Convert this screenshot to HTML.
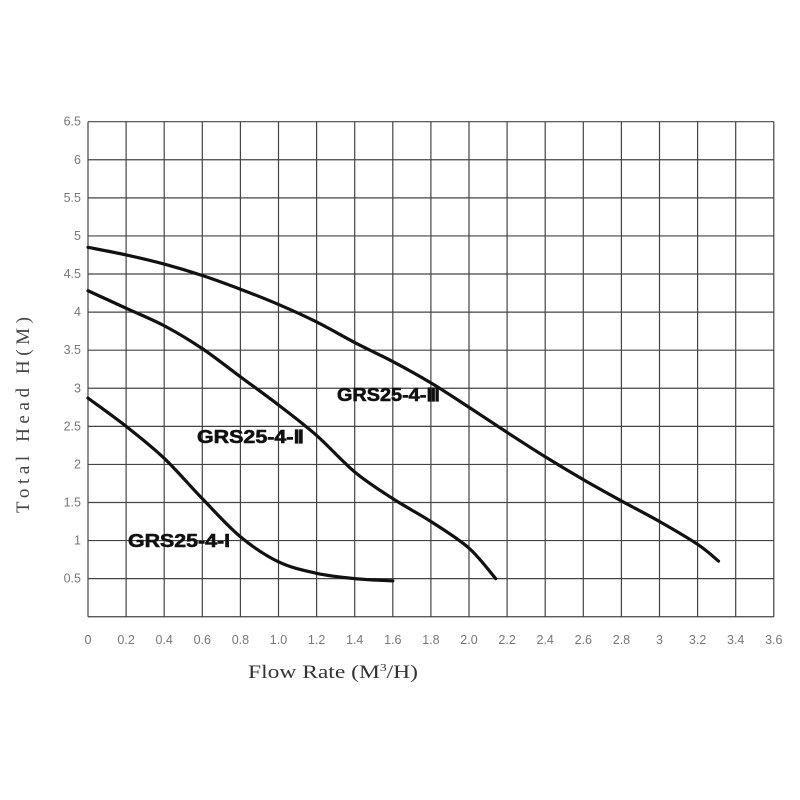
<!DOCTYPE html>
<html><head><meta charset="utf-8"><style>
html,body{margin:0;padding:0;background:#fff;width:800px;height:800px;overflow:hidden}
</style></head><body>
<svg id="s" width="800" height="800" xmlns="http://www.w3.org/2000/svg" font-family="Liberation Sans, sans-serif">
<g id="grid" stroke="#444" stroke-width="1.2"></g>
<g id="curves" fill="none" stroke="#111" stroke-width="3.2" stroke-linecap="round"></g>
<g id="lab" fill="#777" font-size="12.5"></g>
<g font-weight="bold" font-size="18" fill="#111" font-family="Liberation Sans, sans-serif" stroke="#111" stroke-width="0.6">
<text x="337" y="401" textLength="103" lengthAdjust="spacingAndGlyphs">GRS25-4-Ⅲ</text>
<text x="197" y="443" textLength="107" lengthAdjust="spacingAndGlyphs">GRS25-4-Ⅱ</text>
<text x="128" y="547" textLength="102" lengthAdjust="spacingAndGlyphs">GRS25-4-I</text>
</g>
<text x="248" y="678" font-family="Liberation Serif, serif" font-size="19" fill="#333" textLength="170" lengthAdjust="spacingAndGlyphs">Flow Rate (M<tspan dy="-7" font-size="11">3</tspan><tspan dy="7">/H)</tspan></text>
<text transform="translate(29,415) rotate(-90)" text-anchor="middle" font-family="Liberation Serif, serif" font-size="19" fill="#444" textLength="196" lengthAdjust="spacing">Total Head H(M)</text>
</svg>
<script>
var L=88,T=121.7,B=616.7,dx=38.1,dy=38.08,ns="http://www.w3.org/2000/svg";
function px(x){return L+x*dx*5}function py(y){return B-y*dy*2}
var g=document.getElementById('grid'),lab=document.getElementById('lab'),c=document.getElementById('curves');
function el(p,t,a,txt){var e=document.createElementNS(ns,t);for(var k in a)e.setAttribute(k,a[k]);if(txt)e.textContent=txt;p.appendChild(e);}
for(var i=0;i<=18;i++){var x=L+i*dx;el(g,'line',{x1:x,y1:T,x2:x,y2:B});}
for(var j=0;j<=13;j++){var y=T+j*dy;el(g,'line',{x1:L,y1:y,x2:L+18*dx,y2:y});}
var xl=['0','0.2','0.4','0.6','0.8','1.0','1.2','1.4','1.6','1.8','2.0','2.2','2.4','2.6','2.8','3','3.2','3.4','3.6'];
xl.forEach(function(t,i){el(lab,'text',{x:L+i*dx,y:644,'text-anchor':'middle'},t)});
var yl=['6.5','6','5.5','5','4.5','4','3.5','3','2.5','2','1.5','1','0.5'];
yl.forEach(function(t,j){el(lab,'text',{x:81,y:T+j*dy+4,'text-anchor':'end'},t)});
function path(pts){var P=pts.map(function(p){return[px(p[0]),py(p[1])]});var d='M'+P[0][0]+','+P[0][1];
for(var i=0;i<P.length-1;i++){var p0=P[i-1]||P[i],p1=P[i],p2=P[i+1],p3=P[i+2]||P[i+1];
d+=' C'+(p1[0]+(p2[0]-p0[0])/6)+','+(p1[1]+(p2[1]-p0[1])/6)+' '+(p2[0]-(p3[0]-p1[0])/6)+','+(p2[1]-(p3[1]-p1[1])/6)+' '+p2[0]+','+p2[1];}
el(c,'path',{d:d});}
path([[0,4.85],[0.2,4.75],[0.4,4.63],[0.6,4.48],[0.8,4.3],[1.0,4.1],[1.2,3.87],[1.4,3.6],[1.6,3.35],[1.8,3.07],[2.0,2.75],[2.2,2.42],[2.4,2.1],[2.6,1.8],[2.8,1.52],[3.0,1.25],[3.2,0.95],[3.31,0.73]]);
path([[0,4.28],[0.2,4.05],[0.4,3.82],[0.6,3.52],[0.8,3.15],[1.0,2.78],[1.2,2.38],[1.4,1.9],[1.6,1.55],[1.8,1.25],[2.0,0.9],[2.14,0.5]]);
path([[0,2.87],[0.2,2.5],[0.4,2.08],[0.6,1.55],[0.8,1.05],[1.0,0.72],[1.2,0.57],[1.4,0.5],[1.6,0.47]]);
</script>
</body></html>
